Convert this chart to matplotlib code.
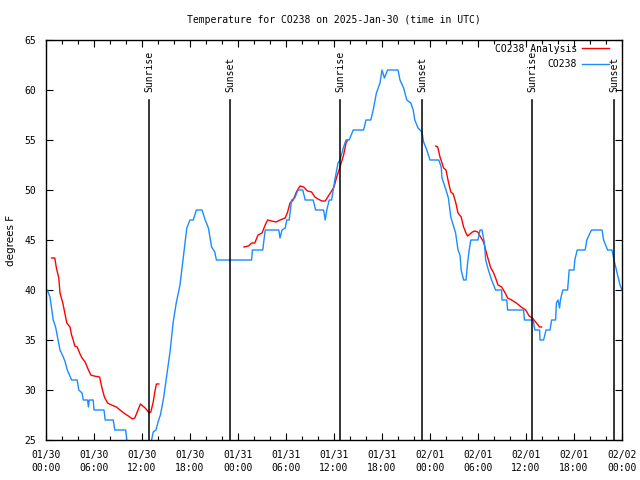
import numpy as np
import pandas as pd
import matplotlib
matplotlib.use("Agg")
import matplotlib.pyplot as plt, matplotlib.dates as mdates

# observed temperature (hours after 2025-01-30 00:00 UTC, degrees F)
obs_hours = [0.0, 0.16, 0.5, 0.9, 1.2, 1.46, 1.75, 2.16, 2.4, 2.66, 3.2, 3.9, 4.1, 4.5, 4.66,
             5.2, 5.3, 5.4, 5.9, 6.0, 7.25, 7.4, 8.4, 8.6, 9.96, 10.1, 10.6, 11.5, 12.5, 13.0,
             13.2, 13.4, 13.75, 14.0, 14.3, 14.7, 15.1, 15.5, 15.9, 16.3, 16.75, 17.2, 17.6, 18.0,
             18.4, 18.8, 19.5, 19.9, 20.3, 20.7, 21.1, 21.3, 25.1, 25.7, 25.8, 27.1, 27.2, 27.4,
             27.5, 29.1, 29.25, 29.5, 29.9, 30.1, 30.4, 30.7, 31.1, 31.5, 32.1, 32.4, 33.4, 33.7,
             34.7, 34.9, 35.1, 35.4, 35.7, 36.1, 36.5, 36.75, 37.2, 37.5, 37.9, 38.4, 39.7, 40.0,
             40.6, 40.9, 41.3, 41.75, 42.0, 42.3, 42.7, 44.0, 44.25, 44.7, 45.1, 45.6, 45.9, 46.1,
             46.5, 47.0, 47.2, 47.6, 48.0, 49.1, 49.4, 49.5, 50.0, 50.3, 50.6, 50.9, 51.2, 51.5,
             51.75, 51.9, 52.2, 52.5, 52.7, 52.9, 53.1, 54.0, 54.25, 54.5, 54.8, 54.96, 55.3, 55.7,
             56.2, 56.96, 57.0, 57.6, 57.7, 59.7, 59.8, 60.9, 61.1, 61.7, 61.75, 62.2, 62.5, 63.0,
             63.2, 63.7, 63.8, 64.0, 64.2, 64.3, 64.6, 65.2, 65.4, 66.0, 66.1, 66.4, 67.4, 67.6,
             68.0, 68.2, 69.5, 69.7, 70.2, 70.75, 71.0, 71.3, 71.75, 72.0]
obs_temps = [40, 40, 39.3, 37, 36.3, 35.2, 34, 33.3, 32.8, 32, 31, 31, 30, 29.7, 29,
             29, 28.3, 29, 29, 28, 28, 27, 27, 26, 26, 25, 24.5, 24, 24, 24.5,
             25, 25.8, 26, 26.8, 27.5, 29.2, 31.5, 33.8, 36.8, 38.8, 40.5, 43.5, 46.2, 47,
             47, 48, 48, 47, 46.2, 44.3, 43.8, 43, 43, 43, 44, 44, 44.7, 46,
             46, 46, 45.2, 46, 46.2, 47, 47, 49, 49.2, 50, 50, 49, 49, 48,
             48, 47, 48, 49, 49, 51, 52.7, 53, 54.3, 55, 55, 56, 56, 57,
             57, 58, 59.7, 60.7, 62, 61.2, 62, 62, 61, 60.2, 59, 58.7, 58, 57,
             56.2, 55.8, 54.8, 54, 53, 53, 52.3, 51.2, 50, 49.2, 47.3, 46.5, 45.7, 44,
             43.5, 42, 41, 41, 42.7, 44, 45, 45, 46, 46, 44.7, 43, 42, 41,
             40, 40, 39, 39, 38, 38, 37, 37, 36, 36, 35, 35, 36, 36,
             37, 37, 38.7, 39, 38.2, 39, 40, 40, 42, 42, 43, 44, 44, 45,
             45.7, 46, 46, 45, 44, 44, 43, 42, 40.5, 40]

# analysis runs (three separate pieces)
ana1_hours = [0.7, 1.1, 1.3, 1.6, 1.75, 2.1, 2.4, 2.6, 3.0, 3.2, 3.4, 3.6, 3.9, 4.2, 4.5, 4.9, 5.2,
              5.6, 6.0, 6.7, 7.0, 7.3, 7.7, 8.2, 8.8, 9.25, 9.9, 10.3, 10.8, 11.1, 11.5, 11.8, 12.4,
              12.9, 13.1, 13.4, 13.6, 13.8, 14.1]
ana1_temps = [43.2, 43.2, 42.2, 41.2, 39.7, 38.7, 37.5, 36.7, 36.3, 35.5, 35, 34.4, 34.3, 33.7, 33.2,
              32.8, 32.2, 31.5, 31.4, 31.3, 30.2, 29.3, 28.7, 28.5, 28.3, 28, 27.6, 27.4, 27.1, 27.2,
              28, 28.6, 28.2, 27.7, 27.8, 28.8, 29.8, 30.6, 30.6]
ana2_hours = [24.75, 25.3, 25.7, 26.1, 26.5, 27.0, 27.4, 27.7, 28.2, 28.75, 29.25, 29.9, 30.2, 30.5,
              30.9, 31.3, 31.75, 32.2, 32.7, 33.2, 33.6, 34.0, 34.5, 34.9, 35.3, 35.7, 36.0, 36.3,
              36.75, 37.2, 37.5, 37.7]
ana2_temps = [44.3, 44.4, 44.7, 44.7, 45.5, 45.7, 46.5, 47, 46.9, 46.8, 47, 47.2, 47.8, 48.7,
              49, 49.8, 50.4, 50.3, 49.9, 49.8, 49.3, 49.1, 48.9, 48.9, 49.4, 49.9, 50.3, 51.2,
              52.3, 53.5, 54.7, 55]
ana3_hours = [48.7, 48.96, 49.25, 49.5, 49.7, 50.0, 50.3, 50.6, 50.9, 51.2, 51.5, 51.9, 52.2, 52.5,
              52.7, 53.0, 53.3, 53.6, 53.96, 54.25, 54.7, 54.96, 55.3, 55.6, 55.9, 56.2, 56.5, 56.96,
              57.4, 57.7, 58.2, 58.8, 59.4, 59.96, 60.4, 60.8, 61.2, 61.7, 61.95]
ana3_temps = [54.4, 54.3, 53.3, 52.7, 52.2, 52, 50.8, 49.8, 49.6, 48.8, 47.7, 47.3, 46.3, 45.7,
              45.4, 45.6, 45.8, 45.9, 45.8, 45.4, 44.8, 44, 43, 42.2, 41.8, 41.2, 40.5, 40.3,
              39.7, 39.2, 39, 38.7, 38.3, 38, 37.4, 37.2, 36.8, 36.3, 36.3]

# sun events (hours after start)
sun_labels = ["Sunrise", "Sunset", "Sunrise", "Sunset", "Sunrise", "Sunset"]
sun_hours = [12.9, 23.05, 36.8, 47.0, 60.8, 71.0]

start = pd.Timestamp("2025-01-30 00:00")
def to_time(h):
    return start + pd.to_timedelta(np.array(h), unit="h")

mono = "DejaVu Sans Mono"
fs = 7

fig = plt.figure(figsize=(6.4, 4.8), dpi=100)
ax = fig.add_axes([46 / 640, 40 / 480, 576 / 640, 400 / 480])

red = "#ff0000"
blue = "#1a8cff"

ax.plot(to_time(ana1_hours), ana1_temps, color=red, lw=1.0, label="CO238 Analysis")
ax.plot(to_time(ana2_hours), ana2_temps, color=red, lw=1.0)
ax.plot(to_time(ana3_hours), ana3_temps, color=red, lw=1.0)
ax.plot(to_time(obs_hours), obs_temps, color=blue, lw=1.0, label="CO238")

# sunrise / sunset markers
for lab, h in zip(sun_labels, sun_hours):
    t = start + pd.Timedelta(hours=h)
    ax.plot([t, t], [25, 59], color="black", lw=1.1)
    ax.text(t, 59.8, lab, rotation=90, ha="center", va="bottom", fontsize=fs, family=mono)

ax.set_xlim(start, start + pd.Timedelta(hours=72))
ax.set_ylim(25, 65)
ax.set_yticks(range(25, 66, 5))
ax.xaxis.set_major_locator(mdates.HourLocator(byhour=[0, 6, 12, 18]))
ax.xaxis.set_minor_locator(mdates.HourLocator(byhour=range(0, 24, 2)))
ax.xaxis.set_major_formatter(mdates.DateFormatter("%m/%d\n%H:%M"))

ax.tick_params(which="both", direction="in", top=True, right=True, labelsize=fs, pad=7)
ax.tick_params(which="major", length=5, width=0.8)
ax.tick_params(which="minor", length=3, width=0.8)
for lbl in ax.get_xticklabels() + ax.get_yticklabels():
    lbl.set_family(mono)
    lbl.set_linespacing(1.4)
for s in ax.spines.values():
    s.set_linewidth(1.0)

ax.set_ylabel("degrees F", fontsize=7.5, labelpad=6)
ax.set_title("Temperature for CO238 on 2025-Jan-30 (time in UTC)", fontsize=fs, family=mono, pad=12)

ax.legend(loc="upper right", bbox_to_anchor=(1 - 6 / 576, 1 + 3 / 400), frameon=False,
          markerfirst=False, handlelength=2.8, prop={"family": mono, "size": fs},
          borderaxespad=0.3, labelspacing=0.55, handletextpad=0.5)

fig.savefig("out.png", dpi=100)
